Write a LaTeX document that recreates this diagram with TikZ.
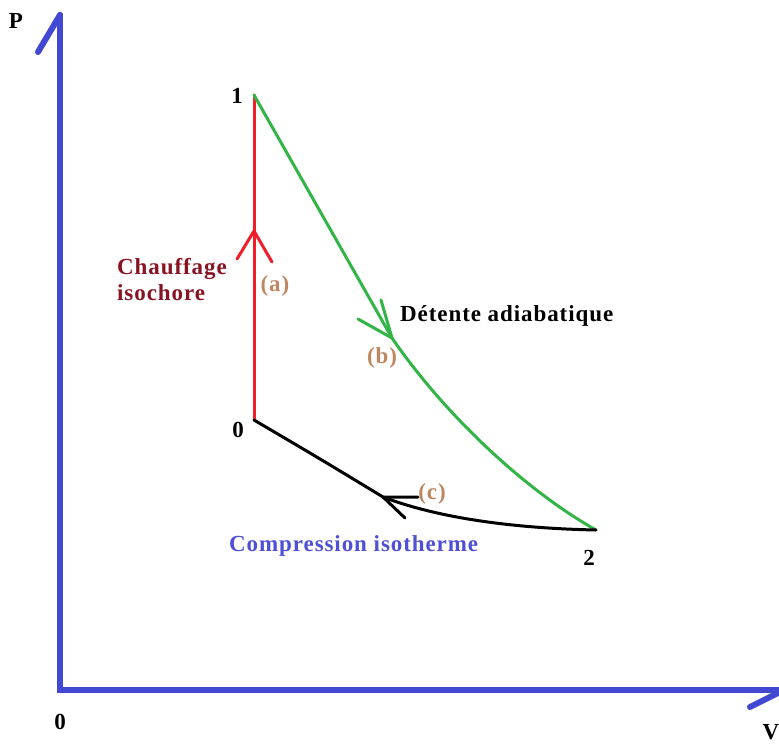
\documentclass[tikz,border=0pt]{standalone}
\usepackage{fontspec}
\setmainfont{Liberation Serif}
\definecolor{axisblue}{RGB}{66,72,210}
\definecolor{redline}{RGB}{240,30,40}
\definecolor{greenline}{RGB}{50,180,70}
\definecolor{darkred}{RGB}{135,20,35}
\definecolor{tan}{RGB}{190,135,95}
\definecolor{labelblue}{RGB}{80,80,215}
\tikzset{
  lbl/.style={font=\fontsize{23}{26}\selectfont\bfseries\addfontfeatures{LetterSpace=4}, inner sep=0pt},
  axisline/.style={draw=axisblue, line width=6pt, line cap=round, line join=miter},
  curveline/.style={line width=3pt, line cap=round, line join=round},
}
\begin{document}
\begin{tikzpicture}[x=1pt,y=-1pt]
\useasboundingbox (0,0) rectangle (779,745);
% axes
\coordinate (ptop) at (60,15);
\coordinate (orig) at (60,690);
\coordinate (vend) at (785,690);
\path[axisline] (ptop) -- (orig) -- (vend);
\coordinate (phook) at (38,52);
\path[axisline] (ptop) -- (phook);
\coordinate (vtip) at (782,691);
\coordinate (vhook) at (750,707);
\path[axisline] (vtip) -- (vhook);
\node[lbl] (P) at (16,21) {P};
\node[lbl] (V) at (771,732) {V};
\node[lbl] (O) at (60,722) {0};
% cycle points
\coordinate (s1) at (254,95);
\coordinate (s0) at (254,420);
\coordinate (s2) at (596,530);
\node[lbl] (n1) at (237,96) {1};
\node[lbl] (n0) at (238,430) {0};
\node[lbl] (n2) at (589,558) {2};
% (a) isochore heating
\draw[curveline, redline] (s0) -- (s1);
\coordinate (atip) at (254,231);
\coordinate (aleft) at (237,259);
\coordinate (aright) at (272,262);
\draw[curveline, redline] (aleft) -- (atip) -- (aright);
\node[lbl, darkred, align=left, anchor=west] (chauf) at (117,280) {Chauffage\\isochore};
\node[lbl, tan] (la) at (275,286) {(a)};
% (b) adiabatic expansion
\coordinate (btip) at (392,338);
\draw[curveline, greenline] (s1) -- (btip) .. controls (445,415) and (525,490) .. (s2);
\coordinate (bleft) at (358,319);
\coordinate (bright) at (381,300);
\draw[curveline, greenline] (bleft) -- (btip) -- (bright);
\node[lbl, anchor=west] (det) at (400,316) {Détente adiabatique};
\node[lbl, tan] (lb) at (382,358) {(b)};
% (c) isothermal compression
\coordinate (ctip) at (383,497);
\draw[curveline, black] (s2) .. controls (500,528) and (430,515) .. (ctip) .. controls (322,460) .. (s0);
\coordinate (cleft) at (418,497);
\coordinate (cright) at (405,518);
\draw[curveline, black] (cleft) -- (ctip) -- (cright);
\node[lbl, tan] (lc) at (432,494) {(c)};
\node[lbl, labelblue, anchor=west] (comp) at (229,546) {Compression isotherme};
\end{tikzpicture}
\end{document}
